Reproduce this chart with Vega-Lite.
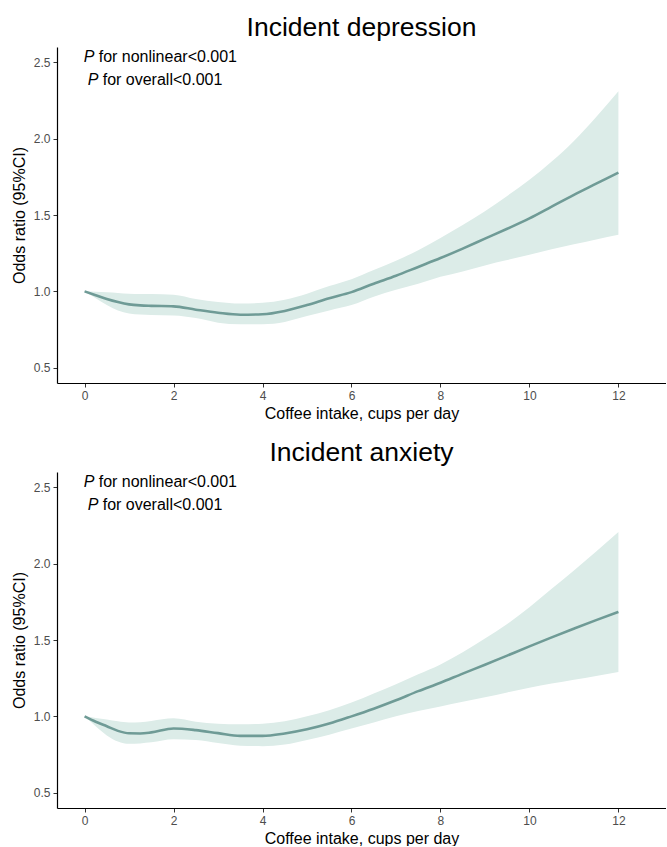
{
  "$schema": "https://vega.github.io/schema/vega-lite/v6.json",
  "padding": {"left": 11, "top": 14, "right": 0, "bottom": 0},
  "autosize": {"type": "pad"},
  "background": "white",
  "config": {
    "font": "Liberation Sans",
    "view": {"stroke": null},
    "axis": {
      "grid": false,
      "domainColor": "black",
      "domainWidth": 1.2,
      "tickColor": "#333333",
      "tickSize": 4,
      "tickWidth": 1,
      "labelColor": "#4d4d4d",
      "labelFontSize": 12,
      "labelPadding": 3,
      "titleFontSize": 16,
      "titleFontWeight": "normal",
      "titleColor": "black"
    },
    "title": {"fontSize": 26.5, "fontWeight": "normal", "color": "black", "anchor": "middle"},
    "concat": {"spacing": 18}
  },
  "datasets": {
    "curves": [
      {"outcome": "depression", "cups": 0, "or": 1.0, "lower": 1.0, "upper": 1.0},
      {"outcome": "depression", "cups": 0.25, "or": 0.975, "lower": 0.955, "upper": 0.998},
      {"outcome": "depression", "cups": 0.5, "or": 0.95, "lower": 0.91, "upper": 0.995},
      {"outcome": "depression", "cups": 0.75, "or": 0.93, "lower": 0.875, "upper": 0.99},
      {"outcome": "depression", "cups": 1.0, "or": 0.915, "lower": 0.855, "upper": 0.985},
      {"outcome": "depression", "cups": 1.25, "or": 0.908, "lower": 0.848, "upper": 0.982},
      {"outcome": "depression", "cups": 1.5, "or": 0.905, "lower": 0.845, "upper": 0.982},
      {"outcome": "depression", "cups": 2.0, "or": 0.902, "lower": 0.842, "upper": 0.978},
      {"outcome": "depression", "cups": 2.5, "or": 0.88, "lower": 0.825, "upper": 0.95},
      {"outcome": "depression", "cups": 3.0, "or": 0.86, "lower": 0.795, "upper": 0.93},
      {"outcome": "depression", "cups": 3.5, "or": 0.847, "lower": 0.785, "upper": 0.92},
      {"outcome": "depression", "cups": 4.0, "or": 0.85, "lower": 0.785, "upper": 0.925},
      {"outcome": "depression", "cups": 4.5, "or": 0.872, "lower": 0.8, "upper": 0.945},
      {"outcome": "depression", "cups": 5.0, "or": 0.91, "lower": 0.838, "upper": 0.985},
      {"outcome": "depression", "cups": 5.5, "or": 0.955, "lower": 0.875, "upper": 1.035},
      {"outcome": "depression", "cups": 6.0, "or": 0.995, "lower": 0.91, "upper": 1.08},
      {"outcome": "depression", "cups": 6.5, "or": 1.05, "lower": 0.965, "upper": 1.14},
      {"outcome": "depression", "cups": 7.0, "or": 1.102, "lower": 1.01, "upper": 1.2},
      {"outcome": "depression", "cups": 7.5, "or": 1.16, "lower": 1.05, "upper": 1.27},
      {"outcome": "depression", "cups": 8.0, "or": 1.218, "lower": 1.095, "upper": 1.35},
      {"outcome": "depression", "cups": 8.5, "or": 1.28, "lower": 1.13, "upper": 1.435},
      {"outcome": "depression", "cups": 9.0, "or": 1.345, "lower": 1.17, "upper": 1.525},
      {"outcome": "depression", "cups": 9.5, "or": 1.41, "lower": 1.205, "upper": 1.625},
      {"outcome": "depression", "cups": 10.0, "or": 1.478, "lower": 1.24, "upper": 1.73},
      {"outcome": "depression", "cups": 10.5, "or": 1.555, "lower": 1.275, "upper": 1.85},
      {"outcome": "depression", "cups": 11.0, "or": 1.632, "lower": 1.308, "upper": 1.985},
      {"outcome": "depression", "cups": 11.5, "or": 1.705, "lower": 1.34, "upper": 2.142},
      {"outcome": "depression", "cups": 12.0, "or": 1.778, "lower": 1.37, "upper": 2.311},
      {"outcome": "anxiety", "cups": 0, "or": 1.0, "lower": 1.0, "upper": 1.0},
      {"outcome": "anxiety", "cups": 0.25, "or": 0.965, "lower": 0.935, "upper": 0.99},
      {"outcome": "anxiety", "cups": 0.5, "or": 0.935, "lower": 0.875, "upper": 0.98},
      {"outcome": "anxiety", "cups": 0.75, "or": 0.905, "lower": 0.835, "upper": 0.968},
      {"outcome": "anxiety", "cups": 1.0, "or": 0.889, "lower": 0.82, "upper": 0.96},
      {"outcome": "anxiety", "cups": 1.25, "or": 0.888, "lower": 0.823, "upper": 0.962},
      {"outcome": "anxiety", "cups": 1.5, "or": 0.895, "lower": 0.83, "upper": 0.97},
      {"outcome": "anxiety", "cups": 2.0, "or": 0.921, "lower": 0.85, "upper": 0.987},
      {"outcome": "anxiety", "cups": 2.5, "or": 0.91, "lower": 0.845, "upper": 0.965},
      {"outcome": "anxiety", "cups": 3.0, "or": 0.89, "lower": 0.825, "upper": 0.952},
      {"outcome": "anxiety", "cups": 3.5, "or": 0.872, "lower": 0.808, "upper": 0.948},
      {"outcome": "anxiety", "cups": 4.0, "or": 0.872, "lower": 0.805, "upper": 0.952},
      {"outcome": "anxiety", "cups": 4.5, "or": 0.888, "lower": 0.815, "upper": 0.968},
      {"outcome": "anxiety", "cups": 5.0, "or": 0.915, "lower": 0.845, "upper": 1.0},
      {"outcome": "anxiety", "cups": 5.5, "or": 0.953, "lower": 0.88, "upper": 1.04},
      {"outcome": "anxiety", "cups": 6.0, "or": 1.0, "lower": 0.92, "upper": 1.09},
      {"outcome": "anxiety", "cups": 6.5, "or": 1.05, "lower": 0.96, "upper": 1.15},
      {"outcome": "anxiety", "cups": 7.0, "or": 1.105, "lower": 1.0, "upper": 1.21},
      {"outcome": "anxiety", "cups": 7.5, "or": 1.165, "lower": 1.035, "upper": 1.275},
      {"outcome": "anxiety", "cups": 8.0, "or": 1.22, "lower": 1.065, "upper": 1.34},
      {"outcome": "anxiety", "cups": 8.5, "or": 1.28, "lower": 1.095, "upper": 1.42},
      {"outcome": "anxiety", "cups": 9.0, "or": 1.338, "lower": 1.125, "upper": 1.51},
      {"outcome": "anxiety", "cups": 9.5, "or": 1.398, "lower": 1.157, "upper": 1.605},
      {"outcome": "anxiety", "cups": 10.0, "or": 1.458, "lower": 1.188, "upper": 1.715},
      {"outcome": "anxiety", "cups": 10.5, "or": 1.517, "lower": 1.215, "upper": 1.835},
      {"outcome": "anxiety", "cups": 11.0, "or": 1.574, "lower": 1.24, "upper": 1.955},
      {"outcome": "anxiety", "cups": 11.5, "or": 1.63, "lower": 1.265, "upper": 2.08},
      {"outcome": "anxiety", "cups": 12.0, "or": 1.684, "lower": 1.29, "upper": 2.207}
    ],
    "notes": [
      {"outcome": "depression", "cups": -0.02, "or": 2.533, "text": "for nonlinear<0.001"},
      {"outcome": "depression", "cups": 0.07, "or": 2.386, "text": "for overall<0.001"},
      {"outcome": "anxiety", "cups": -0.02, "or": 2.533, "text": "for nonlinear<0.001"},
      {"outcome": "anxiety", "cups": 0.07, "or": 2.386, "text": "for overall<0.001"}
    ]
  },
  "vconcat": [
    {
      "title": {"text": "Incident depression", "offset": 6},
      "width": 609,
      "height": 336,
      "layer": [
        {
          "data": {"name": "curves"},
          "transform": [{"filter": "datum.outcome === 'depression'"}],
          "mark": {"type": "area", "color": "#dcece8", "opacity": 1, "interpolate": "monotone"},
          "encoding": {
            "x": {"field": "cups", "type": "quantitative", "scale": {"domain": [-0.62, 13.07], "nice": false, "zero": false}, "axis": {"values": [0, 2, 4, 6, 8, 10, 12], "title": "Coffee intake, cups per day", "titlePadding": 4}},
            "y": {"field": "lower", "type": "quantitative", "scale": {"domain": [0.4, 2.6], "nice": false, "zero": false}, "axis": {"values": [0.5, 1, 1.5, 2, 2.5], "format": ".1f", "title": "Odds ratio (95%CI)", "titlePadding": 6}},
            "y2": {"field": "upper"}
          }
        },
        {
          "data": {"name": "curves"},
          "transform": [{"filter": "datum.outcome === 'depression'"}],
          "mark": {"type": "line", "color": "#6f9b96", "strokeWidth": 2.6, "interpolate": "monotone"},
          "encoding": {
            "x": {"field": "cups", "type": "quantitative"},
            "y": {"field": "or", "type": "quantitative"}
          }
        },
        {
          "mark": {"type": "rule", "color": "black", "strokeDash": [5, 4], "strokeWidth": 1.2},
          "encoding": {"y": {"datum": 1}}
        },
        {
          "data": {"name": "notes"},
          "transform": [{"filter": "datum.outcome === 'depression'"}],
          "mark": {"type": "text", "text": "P", "fontStyle": "italic", "fontSize": 16, "align": "left", "baseline": "middle", "color": "black"},
          "encoding": {
            "x": {"field": "cups", "type": "quantitative"},
            "y": {"field": "or", "type": "quantitative"}
          }
        },
        {
          "data": {"name": "notes"},
          "transform": [{"filter": "datum.outcome === 'depression'"}],
          "mark": {"type": "text", "fontSize": 16, "align": "left", "baseline": "middle", "dx": 15, "color": "black"},
          "encoding": {
            "x": {"field": "cups", "type": "quantitative"},
            "y": {"field": "or", "type": "quantitative"},
            "text": {"field": "text"}
          }
        }
      ]
    },
    {
      "title": {"text": "Incident anxiety", "offset": 6},
      "width": 609,
      "height": 336,
      "layer": [
        {
          "data": {"name": "curves"},
          "transform": [{"filter": "datum.outcome === 'anxiety'"}],
          "mark": {"type": "area", "color": "#dcece8", "opacity": 1, "interpolate": "monotone"},
          "encoding": {
            "x": {"field": "cups", "type": "quantitative", "scale": {"domain": [-0.62, 13.07], "nice": false, "zero": false}, "axis": {"values": [0, 2, 4, 6, 8, 10, 12], "title": "Coffee intake, cups per day", "titlePadding": 4}},
            "y": {"field": "lower", "type": "quantitative", "scale": {"domain": [0.4, 2.6], "nice": false, "zero": false}, "axis": {"values": [0.5, 1, 1.5, 2, 2.5], "format": ".1f", "title": "Odds ratio (95%CI)", "titlePadding": 6}},
            "y2": {"field": "upper"}
          }
        },
        {
          "data": {"name": "curves"},
          "transform": [{"filter": "datum.outcome === 'anxiety'"}],
          "mark": {"type": "line", "color": "#6f9b96", "strokeWidth": 2.6, "interpolate": "monotone"},
          "encoding": {
            "x": {"field": "cups", "type": "quantitative"},
            "y": {"field": "or", "type": "quantitative"}
          }
        },
        {
          "mark": {"type": "rule", "color": "black", "strokeDash": [5, 4], "strokeWidth": 1.2},
          "encoding": {"y": {"datum": 1}}
        },
        {
          "data": {"name": "notes"},
          "transform": [{"filter": "datum.outcome === 'anxiety'"}],
          "mark": {"type": "text", "text": "P", "fontStyle": "italic", "fontSize": 16, "align": "left", "baseline": "middle", "color": "black"},
          "encoding": {
            "x": {"field": "cups", "type": "quantitative"},
            "y": {"field": "or", "type": "quantitative"}
          }
        },
        {
          "data": {"name": "notes"},
          "transform": [{"filter": "datum.outcome === 'anxiety'"}],
          "mark": {"type": "text", "fontSize": 16, "align": "left", "baseline": "middle", "dx": 15, "color": "black"},
          "encoding": {
            "x": {"field": "cups", "type": "quantitative"},
            "y": {"field": "or", "type": "quantitative"},
            "text": {"field": "text"}
          }
        }
      ]
    }
  ]
}
